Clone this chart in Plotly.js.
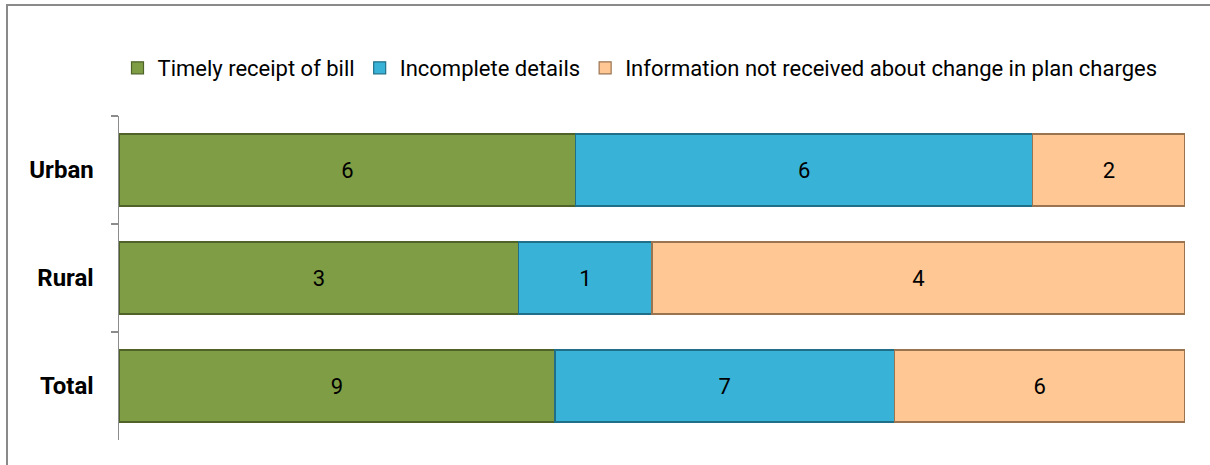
<!DOCTYPE html>
<html>
<head>
<meta charset="utf-8">
<script src="https://cdn.plot.ly/plotly-3.0.1.min.js"></script>
<style>html,body{margin:0;padding:0;background:#fff;} #chart{width:1210px;height:465px;}</style>
</head>
<body>
<div id="chart"></div>
<script>
const categories = ["Urban", "Rural", "Total"];
const seriesNames = ["Timely receipt of bill", "Incomplete details", "Information not received about change in plan charges"];
const timelyReceipt = [6, 3, 9];
const incompleteDetails = [6, 1, 7];
const infoNotReceived = [2, 4, 6];

const fills = ["#7f9d45", "#38b2d6", "#fec794"];
const edges = ["#4f6329", "#1f6f88", "#9a7350"];
const values = [timelyReceipt, incompleteDetails, infoNotReceived];
const FONT = "Roboto, sans-serif";

const data = values.map((v, i) => ({
  type: "bar",
  orientation: "h",
  name: seriesNames[i],
  y: categories,
  x: v,
  text: v.map(String),
  textposition: "inside",
  insidetextanchor: "middle",
  textfont: {family: FONT, size: 22, color: "#000"},
  marker: {color: fills[i], line: {color: edges[i], width: 1.2}},
  hoverinfo: "none"
}));

const L = 119, R = 1185, T = 116, B = 440;
const px = x => (x - L) / (R - L);
const py = y => (B - y) / (B - T);

const layout = {
  width: 1210, height: 465,
  margin: {l: L, r: 1210 - R, t: T, b: 465 - B, pad: 0},
  paper_bgcolor: "#fff", plot_bgcolor: "#fff",
  barmode: "stack", barnorm: "fraction", bargap: 1/3,
  showlegend: true,
  legend: {
    orientation: "h", x: px(640), xanchor: "center", y: py(68), yanchor: "middle",
    font: {family: FONT, size: 22, color: "#000"},
    itemwidth: 20, traceorder: "normal", tracegroupgap: 0
  },
  xaxis: {visible: false, range: [0, 1], fixedrange: true},
  yaxis: {
    type: "category", autorange: "reversed",
    showline: true, linecolor: "#8c8c8c", linewidth: 1.5,
    ticks: "outside", tickson: "boundaries", ticklen: 7, tickcolor: "#8c8c8c", tickwidth: 1.5,
    ticklabelstandoff: 19,
    tickfont: {family: FONT, size: 24, color: "#000", weight: "bold"},
    showgrid: false, zeroline: false, fixedrange: true
  },
  shapes: [
    {type: "line", xref: "paper", yref: "paper", x0: px(7), x1: px(7), y0: py(4), y1: py(470), line: {color: "#8a8a8a", width: 2}},
    {type: "line", xref: "paper", yref: "paper", x0: px(6), x1: px(1215), y0: py(5), y1: py(5), line: {color: "#8a8a8a", width: 2}}
  ]
};

Plotly.newPlot("chart", data, layout, {displayModeBar: false, staticPlot: true});
</script>
</body>
</html>
